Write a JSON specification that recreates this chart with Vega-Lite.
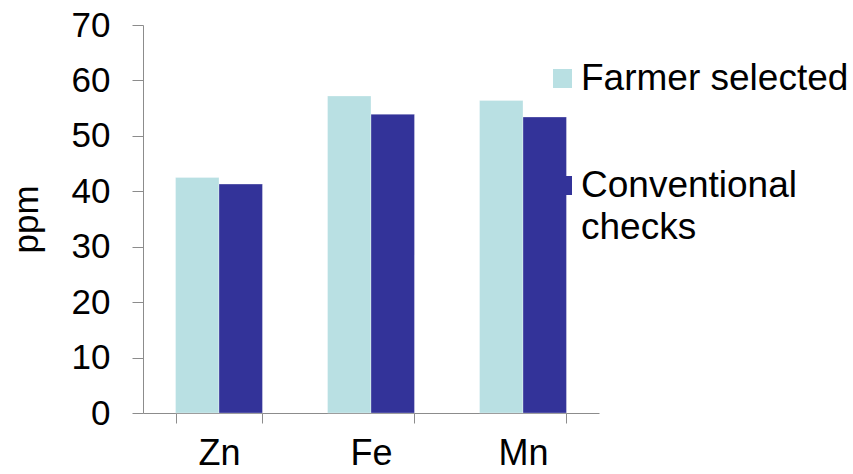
{
  "$schema": "https://vega.github.io/schema/vega-lite/v6.json",
  "autosize": {"type": "none"},
  "padding": {"left": 143, "top": 25, "right": 254, "bottom": 61},
  "width": 456,
  "height": 388,
  "background": "white",
  "config": {
    "font": "Liberation Sans",
    "view": {"stroke": null},
    "style": {"guide-label": {"lineHeight": 42}},
    "axis": {"labelFont": "Liberation Sans", "titleFont": "Liberation Sans", "labelColor": "black", "titleColor": "black", "domainColor": "#8c8c8c", "tickColor": "#8c8c8c", "grid": false}
  },
  "data": {
    "values": [
      {"element": "Zn", "series": "Farmer selected", "ppm": 42.5},
      {"element": "Zn", "series": "Conventional checks", "ppm": 41.3},
      {"element": "Fe", "series": "Farmer selected", "ppm": 57.2},
      {"element": "Fe", "series": "Conventional checks", "ppm": 53.9},
      {"element": "Mn", "series": "Farmer selected", "ppm": 56.4},
      {"element": "Mn", "series": "Conventional checks", "ppm": 53.4}
    ]
  },
  "mark": {"type": "bar", "stroke": "white", "strokeWidth": 0.6, "strokeOpacity": 0.5},
  "encoding": {
    "x": {
      "field": "element", "type": "nominal", "sort": ["Zn", "Fe", "Mn"],
      "scale": {"paddingInner": 0.428, "paddingOuter": 0.214},
      "axis": {"title": null, "labelAngle": 0, "labelFontSize": 36, "tickBand": "extent", "tickSize": 10, "labelPadding": 13}
    },
    "xOffset": {
      "field": "series", "type": "nominal", "sort": ["Farmer selected", "Conventional checks"],
      "scale": {"paddingInner": 0, "paddingOuter": 0}
    },
    "y": {
      "field": "ppm", "type": "quantitative",
      "scale": {"domain": [0, 70], "nice": false},
      "axis": {"title": "ppm", "titleFontSize": 35, "titleFontWeight": "normal", "titlePadding": 27, "labelFontSize": 35, "values": [0, 10, 20, 30, 40, 50, 60, 70], "tickSize": 11, "labelPadding": 22}
    },
    "color": {
      "field": "series", "type": "nominal", "sort": ["Farmer selected", "Conventional checks"],
      "scale": {"domain": ["Farmer selected", "Conventional checks"], "range": ["#b9e0e3", "#333399"]},
      "legend": {
        "title": null, "orient": "none", "legendX": 401, "legendY": 35, "padding": 0,
        "symbolType": "square", "symbolSize": 361, "symbolStrokeWidth": 0, "symbolOpacity": 1,
        "labelFontSize": 37, "labelColor": "black", "labelOffset": 0, "labelLimit": 400,
        "labelBaseline": "middle", "rowPadding": 69,
        "labelExpr": "datum.label == 'Conventional checks' ? ['Conventional', 'checks'] : datum.label"
      }
    }
  }
}
